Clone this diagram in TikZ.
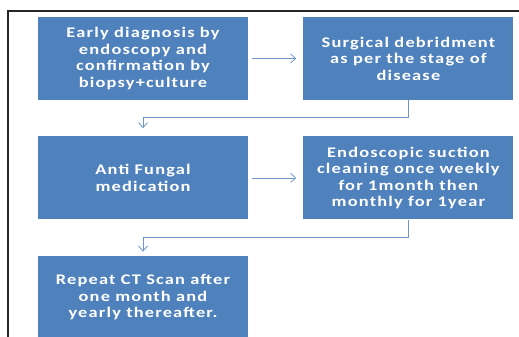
\documentclass[tikz,border=0pt]{standalone}
\usepackage{fontspec}
\setmainfont{Carlito}[FakeStretch=1.25,LetterSpace=8]
\usepackage{tikz}
\usetikzlibrary{positioning,arrows.meta}
\usepackage{xcolor}
\definecolor{boxblue}{RGB}{79,129,189}
\definecolor{linkblue}{RGB}{110,150,204}

\begin{document}
\begin{tikzpicture}[node distance=36pt and 55pt,
    stepbox/.style={fill=boxblue, text=white, minimum width=210pt, minimum height=83pt, inner sep=0pt, align=center, font=\fontsize{14.7}{16.5}\selectfont\bfseries},
    link/.style={draw=linkblue, line width=0.8pt},
    >={Straight Barb[length=5pt,width=9pt]}]
    \useasboundingbox (0,0) rectangle (519pt,-337pt);
    % page frame
    \draw [line width=1.3pt, black!85] (8pt,-340pt) -- (8pt,-11pt) -- (522pt,-11pt);

    \node (diagnosis) [stepbox] at (143pt,-58.5pt) {Early diagnosis by\\endoscopy and\\confirmation by\\biopsy+culture};
    \node (debridment) [stepbox, right=of diagnosis] {Surgical debridment\\as per the stage of\\disease};
    \node (antifungal) [stepbox, below=of diagnosis] {Anti Fungal\\medication};
    \node (suction) [stepbox, right=of antifungal] {Endoscopic suction\\cleaning once weekly\\for 1month then\\monthly for 1year};
    \node (ctscan) [stepbox, below=of antifungal] {Repeat CT Scan after\\one month and\\yearly thereafter.};

    \draw [->, link, shorten <=4pt, shorten >=7pt] (diagnosis) -- (debridment);
    \draw [->, link, shorten <=4pt, shorten >=7pt] (antifungal) -- (suction);
    \draw [->, link, shorten >=8pt] (debridment.south) -- ++(0,-17pt) -| (antifungal.north);
    \draw [->, link, shorten >=4pt] (suction.south) -- ++(0,-18pt) -| (ctscan.north);
\end{tikzpicture}
\end{document}
